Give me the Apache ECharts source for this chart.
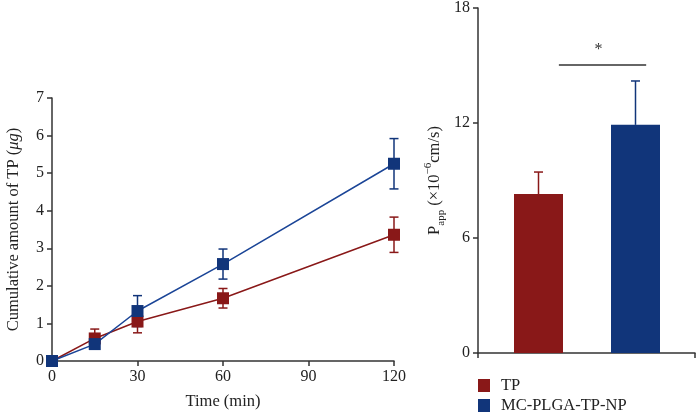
<!DOCTYPE html>
<html><head><meta charset="utf-8">
<script src="https://cdn.jsdelivr.net/npm/echarts@6/dist/echarts.min.js"></script>
<style>html,body{margin:0;padding:0;background:#fff}#c{width:696px;height:415px}</style>
</head><body><div id="c"></div>
<script>
// ---- data ----
const timePoints = [0, 15, 30, 60, 120];
const tpMean = [0, 0.60, 1.05, 1.67, 3.36];
const tpErr  = [0, 0.25, 0.30, 0.26, 0.47];
const npMean = [0, 0.45, 1.33, 2.58, 5.25];
const npErr  = [0, 0.10, 0.41, 0.40, 0.67];
const groups = ['TP', 'MC-PLGA-TP-NP'];
const pappMean = [8.22, 11.80];
const pappErr = [1.14, 2.27];
const sigLevel = 14.9;
const sigMark = '*';

// ---- style ----
const RED = '#891818', BLUE = '#11357a';
const AX = '#333333';
const FONT = 'Liberation Serif';
const txt = {fontFamily: FONT, fontSize: 16, color: '#222'};
const nameTxt = {fontFamily: FONT, fontSize: 16.5, color: '#222'};

function errRender(params, api) {
  const x = api.value(0), y = api.value(1), e = api.value(2);
  const hi = api.coord([x, y + e]), lo = api.coord([x, y - e]);
  const cw = 4.5;
  const style = {stroke: api.visual('color'), lineWidth: 1.5};
  return {type: 'group', children: [
    {type: 'line', shape: {x1: hi[0], y1: hi[1], x2: lo[0], y2: lo[1]}, style},
    {type: 'line', shape: {x1: hi[0] - cw, y1: hi[1], x2: hi[0] + cw, y2: hi[1]}, style},
    {type: 'line', shape: {x1: lo[0] - cw, y1: lo[1], x2: lo[0] + cw, y2: lo[1]}, style}
  ]};
}
function barErrRender(params, api) {
  const x = api.value(0), y = api.value(1), e = api.value(2);
  const hi = api.coord([x, y + e]), lo = api.coord([x, y]);
  const cw = 4.5;
  const style = {stroke: api.visual('color'), lineWidth: 1.5};
  return {type: 'group', children: [
    {type: 'line', shape: {x1: hi[0], y1: hi[1], x2: lo[0], y2: lo[1]}, style},
    {type: 'line', shape: {x1: hi[0] - cw, y1: hi[1], x2: hi[0] + cw, y2: hi[1]}, style}
  ]};
}
function sigRender(params, api) {
  const a = api.coord([api.value(0), api.value(2)]);
  const b = api.coord([api.value(1), api.value(2)]);
  const band = api.size([1, 0])[0];
  const x1 = a[0] + band * 0.21, x2 = b[0] + band * 0.11;
  return {type: 'group', children: [
    {type: 'line', shape: {x1, y1: a[1], x2, y2: a[1]}, style: {stroke: AX, lineWidth: 1.5}},
    {type: 'text', style: {text: sigMark, x: (x1 + x2) / 2 - 4, y: a[1] - 7, align: 'center', verticalAlign: 'bottom', fontFamily: FONT, fontSize: 16, fill: '#333'}}
  ]};
}

const axisLine = {show: true, lineStyle: {color: AX, width: 1.5}};
const axisTick = {show: true, length: 5, lineStyle: {color: AX, width: 1.5}};
const legendBase = {left: 478, padding: 0, itemWidth: 12, itemHeight: 13,
  textStyle: Object.assign({padding: [0, 0, 0, 6]}, nameTxt), selectedMode: false};

const option = {
  animation: false,
  backgroundColor: '#fff',
  grid: [
    {left: 52, top: 98, width: 342, height: 267},
    {left: 478, top: 5, width: 217, height: 348},
    {left: 490, top: 5, width: 194, height: 348}
  ],
  xAxis: [
    {gridIndex: 0, type: 'value', min: 0, max: 120, interval: 30,
     name: 'Time (min)', nameLocation: 'middle', nameGap: 32, nameTextStyle: nameTxt,
     axisLine, axisTick, splitLine: {show: false}, axisLabel: Object.assign({margin: 8}, txt)},
    {gridIndex: 1, type: 'category', data: groups, boundaryGap: true,
     axisLine, axisTick: Object.assign({alignWithLabel: false}, axisTick), axisLabel: {show: false}},
    {gridIndex: 2, type: 'category', data: groups, show: false}
  ],
  yAxis: [
    {gridIndex: 0, type: 'value', min: 0, max: 7, interval: 1,
     name: 'Cumulative amount of TP ({i|μg})', nameLocation: 'middle', nameGap: 30, nameRotate: 90,
     nameTextStyle: Object.assign({rich: {i: {fontFamily: FONT, fontSize: 16.5, fontStyle: 'italic', color: '#222'}}}, nameTxt),
     axisLine, axisTick, splitLine: {show: false}, axisLabel: Object.assign({margin: 8}, txt)},
    {gridIndex: 1, type: 'value', min: 0, max: 18, interval: 6,
     name: '{p|P}{sub|app}{p| (×10}{sup|−6}{p|cm/s)}', nameLocation: 'middle', nameGap: 31, nameRotate: 90,
     nameTextStyle: {fontFamily: FONT, fontSize: 16.5, color: '#222', rich: {
       p: {fontFamily: FONT, fontSize: 16.5, color: '#222', lineHeight: 24},
       sub: {fontFamily: FONT, fontSize: 11, color: '#222', verticalAlign: 'bottom', lineHeight: 24},
       sup: {fontFamily: FONT, fontSize: 11, color: '#222', verticalAlign: 'top', lineHeight: 24}
     }},
     axisLine, axisTick, splitLine: {show: false}, axisLabel: Object.assign({margin: 8}, txt)},
    {gridIndex: 2, type: 'value', min: 0, max: 18, interval: 6, show: false}
  ],
  legend: [
    Object.assign({top: 377, data: [{name: groups[0], icon: 'rect', itemStyle: {color: RED}}]}, legendBase),
    Object.assign({top: 397, data: [{name: groups[1], icon: 'rect', itemStyle: {color: BLUE}}]}, legendBase)
  ],
  series: [
    {type: 'custom', name: 'errTP', xAxisIndex: 0, yAxisIndex: 0, z: 1, itemStyle: {color: RED},
     renderItem: errRender, data: timePoints.map((t, i) => [t, tpMean[i], tpErr[i]])},
    {type: 'custom', name: 'errNP', xAxisIndex: 0, yAxisIndex: 0, z: 1, itemStyle: {color: BLUE},
     renderItem: errRender, data: timePoints.map((t, i) => [t, npMean[i], npErr[i]])},
    {type: 'line', name: groups[0], xAxisIndex: 0, yAxisIndex: 0, z: 3,
     symbol: 'rect', symbolSize: 12, color: RED, lineStyle: {color: RED, width: 1.5},
     itemStyle: {color: RED}, data: timePoints.map((t, i) => [t, tpMean[i]])},
    {type: 'line', name: groups[1], xAxisIndex: 0, yAxisIndex: 0, z: 4,
     symbol: 'rect', symbolSize: 12, color: BLUE, lineStyle: {color: '#1b4597', width: 1.5},
     itemStyle: {color: BLUE}, data: timePoints.map((t, i) => [t, npMean[i]])},
    {type: 'bar', name: groups[0], xAxisIndex: 2, yAxisIndex: 2, barWidth: 49, barGap: '-100%',
     itemStyle: {color: RED}, data: [pappMean[0], '-']},
    {type: 'bar', name: groups[1], xAxisIndex: 2, yAxisIndex: 2, barWidth: 49, barGap: '-100%',
     itemStyle: {color: BLUE}, data: ['-', pappMean[1]]},
    {type: 'custom', name: 'errBarTP', xAxisIndex: 2, yAxisIndex: 2, itemStyle: {color: RED},
     renderItem: barErrRender, data: [[0, pappMean[0], pappErr[0]]]},
    {type: 'custom', name: 'errBarNP', xAxisIndex: 2, yAxisIndex: 2, itemStyle: {color: BLUE},
     renderItem: barErrRender, data: [[1, pappMean[1], pappErr[1]]]},
    {type: 'custom', name: 'sig', xAxisIndex: 2, yAxisIndex: 2,
     renderItem: sigRender, data: [[0, 1, sigLevel]]}
  ]
};
echarts.init(document.getElementById('c')).setOption(option);
</script></body></html>
